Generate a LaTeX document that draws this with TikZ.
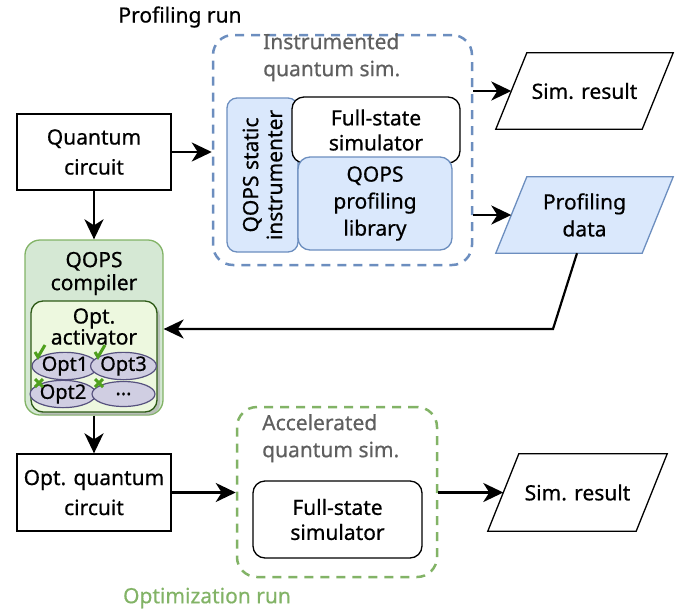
\documentclass[tikz,border=0pt]{standalone}
\usepackage{fontspec}
\setmainfont{Noto Sans}[UprightFeatures={FakeBold=0.6}]
\usepackage{xcolor}
\usetikzlibrary{shapes.geometric, arrows.meta, positioning, shadows, calc}
\definecolor{blueline}{HTML}{6C8EBF}
\definecolor{bluefill}{HTML}{DAE8FC}
\definecolor{greenline}{HTML}{82B366}
\definecolor{greenfill}{HTML}{D5E8D4}
\definecolor{actfill}{HTML}{EDF8DF}
\definecolor{actline}{HTML}{2D5A16}
\definecolor{optfill}{HTML}{D0CEE2}
\definecolor{optline}{HTML}{56517E}
\definecolor{markgreen}{HTML}{4FA01E}
\definecolor{labelgray}{HTML}{5F5F5F}
% parallelogram outline round a named node, slant in pt
\newcommand{\slantbox}[3][]{%
  \draw[line width=1.3pt, #1] ([xshift=31pt]#2.north west) -- (#2.north east)
    -- ([xshift=-31pt]#2.south east) -- (#2.south west) -- cycle;
  \node[inner sep=0pt, align=center] at (#2) {#3};}
% green marks on the options
\newcommand{\okmark}[1]{\draw[mark line] ($(#1)+(-5,0)$) -- ++(3,5) -- ++(7,-12);}
\newcommand{\nomark}[1]{\draw[mark line] ($(#1)+(-4,-4)$) -- ++(8,8) ($(#1)+(4,-4)$) -- ++(-8,8);}

\begin{document}
\begin{tikzpicture}[
    x=1pt, y=-1pt,
    font=\fontsize{21}{27}\selectfont,
    block/.style={draw, line width=1.3pt, inner sep=0pt, align=center},
    simbox/.style={block, rounded corners=12pt, fill=white},
    libbox/.style={block, draw=blueline, fill=bluefill, rounded corners=12pt},
    region/.style={draw, line width=2.5pt, dash pattern=on 9pt off 7pt,
                   rounded corners=20pt, inner sep=0pt},
    slot/.style={inner sep=0pt, font=\fontsize{21}{26}\selectfont},
    optnode/.style={ellipse, draw=optline, fill=optfill, line width=1.2pt,
                    inner sep=0pt, font=\fontsize{20}{20}\selectfont},
    mark line/.style={markgreen, line width=3pt},
    note/.style={text=labelgray, align=left, inner sep=0pt, anchor=north west},
    arrow/.style={-{Stealth[length=20pt, width=19pt, inset=6pt]}, line width=2.6pt}
  ]
    \useasboundingbox (0,0) rectangle (686,614);

    % Profiling run
    \node[inner sep=0pt] (proftitle) at (180,17) {Profiling run};
    \node[block, minimum width=154, minimum height=76] (qc) at (94,152) {Quantum\\[3pt]circuit};
    \node[region, draw=blueline, minimum width=259, minimum height=230] (instr) at (342.5,150) {};
    \node[note] (instrlabel) at (263,33) {Instrumented\\quantum sim.};
    \node[libbox, rotate=90, rounded corners=10pt, minimum width=154, minimum height=71,
          font=\fontsize{21}{24}\selectfont] (static) at (262.5,175) {QOPS static\\instrumenter};
    \node[simbox, minimum width=168, minimum height=66, font=\fontsize{21}{25}\selectfont]
      (fullsim) at (376,130) {Full-state\\simulator};
    \node[libbox, minimum width=154, minimum height=93] (proflib) at (375,203.5)
      {QOPS\\profiling\\library};
    \node[slot, minimum width=177, minimum height=76] (simres) at (584.5,91) {};
    \slantbox{simres}{Sim. result}
    \node[slot, minimum width=177, minimum height=76] (profdata) at (584.5,215) {};
    \slantbox[draw=blueline, fill=bluefill]{profdata}{Profiling\\data}

    % QOPS compiler
    \node[block, draw=greenline, fill=greenfill, rounded corners=15pt,
          minimum width=138, minimum height=175] (compiler) at (94,327.5) {};
    \node[inner sep=0pt, align=center, font=\fontsize{21}{23}\selectfont]
      (complabel) at (94,273.5) {QOPS\\compiler};
    \node[block, draw=actline, fill=actfill, rounded corners=12pt,
          drop shadow={shadow xshift=3pt, shadow yshift=-3pt, fill=black!35, opacity=0.6},
          minimum width=126, minimum height=111] (activator) at (94,356.5) {};
    \node[inner sep=0pt, align=center, font=\fontsize{21}{21}\selectfont]
      (actlabel) at (94,326.5) {Opt.\\activator};
    \node[optnode, minimum width=64, minimum height=24] (opt1) at (65,366) {Opt1};
    \node[optnode, minimum width=63, minimum height=24] (opt3) at (123.5,366) {Opt3};
    \node[optnode, minimum width=62, minimum height=25] (opt2) at (63,394) {Opt2};
    \node[optnode, minimum width=63, minimum height=25] (optmore) at (123.5,394) {...};
    \coordinate (ok1) at (40,352);
    \coordinate (ok3) at (100,352);
    \coordinate (no2) at (39,383);
    \coordinate (nomore) at (99,383);
    \okmark{ok1}
    \okmark{ok3}
    \nomark{no2}
    \nomark{nomore}

    % Optimization run
    \node[block, minimum width=154, minimum height=77] (optqc) at (94,492.5) {Opt. quantum\\[3pt]circuit};
    \node[region, draw=greenline, minimum width=200, minimum height=170] (accel) at (337,492) {};
    \node[note] (accellabel) at (262,414) {Accelerated\\quantum sim.};
    \node[simbox, minimum width=169, minimum height=77, font=\fontsize{21}{25}\selectfont]
      (fullsimopt) at (337.5,519.5) {Full-state\\simulator};
    \node[slot, minimum width=179, minimum height=77] (simresopt) at (577.5,492.5) {};
    \slantbox{simresopt}{Sim. result}
    \node[inner sep=0pt, text=greenline] (opttitle) at (207,598) {Optimization run};

    \coordinate (bend) at (553,329);
    \draw[arrow] (qc.east) -- (qc.east -| instr.west);
    \draw[arrow] (qc.south) -- (compiler.north);
    \draw[arrow] (simres.west -| instr.east) -- ([xshift=15.5pt]simres.west);
    \draw[arrow] (profdata.west -| instr.east) -- ([xshift=15.5pt]profdata.west);
    \draw[arrow, line width=2.2pt] ([xshift=-7.5pt]profdata.south) -- (bend) -- (bend -| compiler.east);
    \draw[arrow] (compiler.south) -- (optqc.north);
    \draw[arrow] (optqc.east) -- (optqc.east -| accel.west);
    \draw[arrow] (simresopt.west -| accel.east) -- ([xshift=15.5pt]simresopt.west);
  \end{tikzpicture}
\end{document}
